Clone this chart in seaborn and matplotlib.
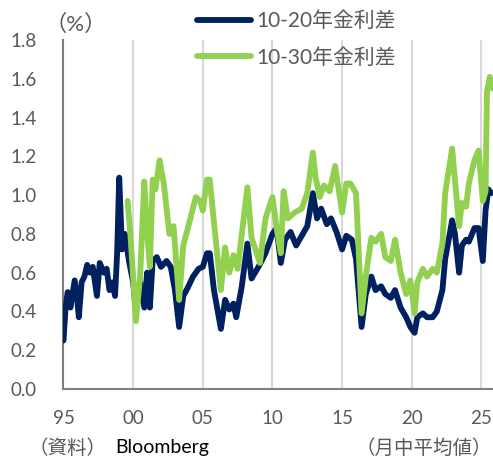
import numpy as np
import pandas as pd
import matplotlib
matplotlib.use('Agg')
import matplotlib.pyplot as plt
import seaborn as sns

# 10-20年金利差（年, %）
yr_1020 = [1995.0, 1995.15, 1995.3, 1995.5, 1995.8, 1996.0, 1996.1, 1996.3, 1996.5, 1996.7,
           1996.9, 1997.1, 1997.4, 1997.6, 1997.9, 1998.1, 1998.3, 1998.5, 1998.7, 1998.85,
           1999.0, 1999.2, 1999.4, 1999.7, 2000.0, 2000.2, 2000.5, 2000.8, 2001.0, 2001.2,
           2001.4, 2001.7, 2002.0, 2002.4, 2002.7, 2003.0, 2003.3, 2003.6, 2003.9, 2004.3,
           2004.7, 2005.0, 2005.3, 2005.5, 2005.8, 2006.3, 2006.6, 2006.9, 2007.2, 2007.4,
           2007.8, 2008.2, 2008.5, 2009.0, 2009.5, 2010.0, 2010.3, 2010.6, 2010.9, 2011.3,
           2011.7, 2012.1, 2012.5, 2012.9, 2013.2, 2013.5, 2013.9, 2014.2, 2014.6, 2015.0,
           2015.3, 2015.7, 2016.0, 2016.4, 2016.7, 2017.1, 2017.4, 2017.8, 2018.1, 2018.5,
           2018.8, 2019.2, 2019.6, 2019.9, 2020.2, 2020.4, 2020.8, 2021.1, 2021.5, 2021.8,
           2022.2, 2022.4, 2022.9, 2023.1, 2023.4, 2023.6, 2023.9, 2024.1, 2024.5, 2024.8,
           2025.1, 2025.3, 2025.5, 2025.7]
val_1020 = [0.25, 0.42, 0.50, 0.42, 0.56, 0.45, 0.37, 0.55, 0.58, 0.64,
            0.60, 0.63, 0.48, 0.65, 0.60, 0.62, 0.51, 0.55, 0.48, 0.70,
            1.09, 0.72, 0.80, 0.66, 0.55, 0.40, 0.55, 0.42, 0.60, 0.42,
            0.66, 0.68, 0.63, 0.66, 0.63, 0.51, 0.32, 0.48, 0.52, 0.58,
            0.62, 0.63, 0.70, 0.70, 0.51, 0.31, 0.46, 0.41, 0.44, 0.37,
            0.53, 0.75, 0.57, 0.63, 0.70, 0.80, 0.83, 0.65, 0.77, 0.81,
            0.74, 0.79, 0.84, 1.01, 0.88, 0.93, 0.85, 0.88, 0.81, 0.72,
            0.79, 0.77, 0.67, 0.32, 0.49, 0.58, 0.51, 0.53, 0.49, 0.47,
            0.51, 0.42, 0.37, 0.32, 0.29, 0.37, 0.39, 0.37, 0.37, 0.40,
            0.51, 0.67, 0.87, 0.80, 0.60, 0.74, 0.77, 0.76, 0.83, 0.83,
            0.66, 0.92, 1.03, 1.01]

# 10-30年金利差（年, %）
yr_1030 = [1999.6, 1999.8, 2000.2, 2000.5, 2000.8, 2001.0, 2001.2, 2001.4, 2001.6, 2001.9,
           2002.2, 2002.6, 2002.9, 2003.3, 2003.6, 2004.0, 2004.5, 2004.8, 2005.0, 2005.3,
           2005.5, 2005.8, 2006.3, 2006.6, 2006.9, 2007.2, 2007.5, 2007.8, 2008.2, 2008.5,
           2009.1, 2009.5, 2010.0, 2010.3, 2010.6, 2010.8, 2011.1, 2011.6, 2012.1, 2012.5,
           2012.9, 2013.1, 2013.4, 2013.7, 2014.1, 2014.5, 2015.0, 2015.3, 2015.6, 2016.0,
           2016.4, 2016.7, 2017.1, 2017.4, 2017.8, 2018.1, 2018.5, 2018.8, 2019.2, 2019.6,
           2019.9, 2020.2, 2020.4, 2020.8, 2021.1, 2021.5, 2021.8, 2022.2, 2022.4, 2022.9,
           2023.1, 2023.4, 2023.6, 2023.9, 2024.1, 2024.5, 2024.8, 2025.1, 2025.3, 2025.4,
           2025.6, 2025.8]
val_1030 = [0.97, 0.80, 0.35, 0.58, 1.07, 0.81, 0.63, 1.08, 1.03, 1.18,
            1.06, 0.80, 0.84, 0.46, 0.74, 0.85, 0.99, 0.97, 0.92, 1.08,
            1.08, 0.86, 0.51, 0.73, 0.60, 0.69, 0.62, 0.80, 1.04, 0.78,
            0.65, 0.88, 0.99, 0.83, 0.70, 1.02, 0.88, 0.91, 0.93, 1.01,
            1.22, 1.09, 0.99, 1.05, 1.02, 1.15, 0.91, 1.06, 1.06, 1.01,
            0.39, 0.58, 0.78, 0.76, 0.80, 0.68, 0.66, 0.77, 0.60, 0.49,
            0.56, 0.39, 0.55, 0.62, 0.58, 0.62, 0.60, 0.75, 1.01, 1.24,
            1.08, 0.84, 0.96, 0.94, 1.06, 1.18, 1.23, 0.97, 1.02, 1.53,
            1.61, 1.55]

year_ticks = [1995, 2000, 2005, 2010, 2015, 2020, 2025]
year_labels = ['95', '00', '05', '10', '15', '20', '25']
y_ticks = [0.0, 0.2, 0.4, 0.6, 0.8, 1.0, 1.2, 1.4, 1.6, 1.8]

NAVY = '#002060'
GREEN = '#92D050'
GRAY = '#595959'

sns.set_style('white')
plt.rcParams['font.family'] = ['Lato', 'Noto Sans CJK JP', 'DejaVu Sans']

df_a = pd.DataFrame({'year': yr_1020, 'val': val_1020})
df_b = pd.DataFrame({'year': yr_1030, 'val': val_1030})

fig = plt.figure(figsize=(4.93, 4.57), dpi=100)
ax = fig.add_axes([63.5 / 493, 68 / 457, 1 - 63.5 / 493, 349 / 457])

sns.lineplot(data=df_a, x='year', y='val', ax=ax, color=NAVY, linewidth=4.2,
             sort=False, label='10-20年金利差', zorder=3)
sns.lineplot(data=df_b, x='year', y='val', ax=ax, color=GREEN, linewidth=4.2,
             sort=False, label='10-30年金利差', zorder=4)
for ln in ax.get_lines():
    ln.set_solid_joinstyle('round')
    ln.set_solid_capstyle('round')

ax.set_xlim(1995, 1995 + (493 - 63.5) / 13.93)
ax.set_ylim(0, 1.8)
ax.set_xticks(year_ticks)
ax.set_xticklabels(year_labels)
ax.set_yticks(y_ticks)
ax.set_yticklabels([f'{v:.1f}' for v in y_ticks])
ax.set_xlabel('')
ax.set_ylabel('')

for x in year_ticks[1:]:
    ax.axvline(x, color='#D9D9D9', linewidth=1.5, zorder=1)

for side in ['top', 'right']:
    ax.spines[side].set_visible(False)
for side in ['left', 'bottom']:
    ax.spines[side].set_color('#808080')
    ax.spines[side].set_linewidth(1.5)

ax.tick_params(axis='y', direction='in', length=5, width=1.2, color='#808080',
               labelsize=13.5, labelcolor=GRAY, pad=19)
ax.tick_params(axis='x', length=0, labelsize=13.5, labelcolor=GRAY, pad=15)

handles, labels = ax.get_legend_handles_labels()
ax.legend_.remove()
leg = fig.legend(handles, labels, loc='upper left',
                 bbox_to_anchor=(197 / 493, 1 - 11 / 457), frameon=False,
                 fontsize=15, handlelength=2.6, handletextpad=0.25,
                 labelspacing=0.8, borderpad=0, borderaxespad=0)
for t in leg.get_texts():
    t.set_color(GRAY)
for h in leg.get_lines():
    h.set_linewidth(4.2)
    h.set_solid_capstyle('round')

fig.text(44 / 493, 1 - 24 / 457, '（%）', fontsize=16, color=GRAY,
         va='center', ha='left')
fig.text(28 / 493, 1 - 448 / 457, '（資料）', fontsize=14, color=GRAY,
         va='center', ha='left')
fig.text(115 / 493, 1 - 448 / 457, 'Bloomberg', fontsize=14, color='black',
         va='center', ha='left')
fig.text(492 / 493, 1 - 448 / 457, '（月中平均値）', fontsize=14, color=GRAY,
         va='center', ha='right')

fig.savefig('out.png', dpi=100)
